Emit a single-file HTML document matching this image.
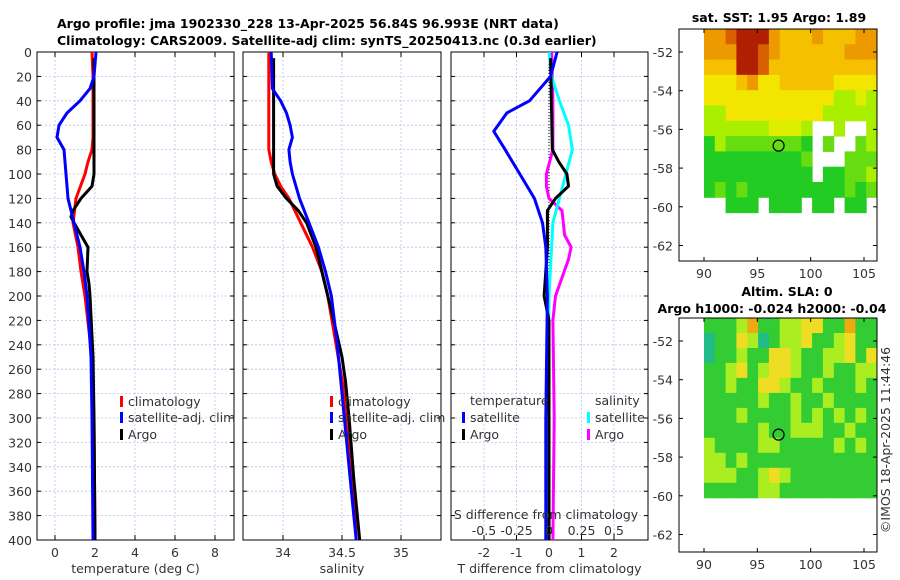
<!DOCTYPE html>
<html><head><meta charset="utf-8"><style>
body{margin:0;background:#fff;}
svg{display:block;font-family:"DejaVu Sans","Liberation Sans",sans-serif;}
.t{font-size:12.5px;fill:#333;}
.b{font-size:12.5px;font-weight:bold;fill:#000;}
</style></head><body>
<svg id="c" width="900" height="580" viewBox="0 0 900 580"></svg>
<script>
// ---------- data ----------
const depthTicks=[0,20,40,60,80,100,120,140,160,180,200,220,240,260,280,300,320,340,360,380,400];
const tempTicks=[0,2,4,6,8];
const salTicks=[34,34.5,35];
const tdiffTicks=[-2,-1,0,1,2];
const sdiffTicks=[-0.5,-0.25,0,0.25,0.5];
const sdiffTickLabels=["-0.5","-0.25","0","0.25","0.5"];
// temperature profiles
const tClimDepth=[0,20,70,80,90,100,120,140,160,180,200,250,300,400];
const tClimVal=[1.85,1.9,1.9,1.85,1.65,1.5,1.05,0.9,1.15,1.3,1.5,1.85,1.95,2.0];
const tSatDepth=[0,20,30,40,50,60,70,80,100,120,140,160,180,200,250,300,400];
const tSatVal=[2.05,1.95,1.75,1.25,0.6,0.2,0.1,0.45,0.55,0.65,0.95,1.25,1.45,1.6,1.8,1.85,1.9];
const tArgoDepth=[5,30,100,110,120,130,135,140,150,160,180,190,200,250,300,400];
const tArgoVal=[1.95,1.95,1.95,1.85,1.3,0.9,0.8,0.95,1.3,1.65,1.6,1.7,1.75,1.9,1.95,2.0];
// salinity profiles
const sSatDepth=[0,30,40,50,60,70,80,90,100,120,140,160,180,200,240,280,320,360,400];
const sSatVal=[33.9,33.91,33.98,34.03,34.06,34.08,34.05,34.06,34.08,34.14,34.22,34.3,34.36,34.41,34.46,34.5,34.54,34.58,34.62];
const sClimDepth=[0,80,90,100,110,120,140,160,180,200,240,280,320,360,400];
const sClimVal=[33.88,33.88,33.9,33.93,33.98,34.05,34.15,34.25,34.33,34.38,34.45,34.52,34.56,34.6,34.62];
const sArgoDepth=[5,100,110,120,130,140,160,180,200,220,250,270,300,350,400];
const sArgoVal=[33.92,33.92,33.95,34.03,34.13,34.2,34.28,34.33,34.38,34.43,34.5,34.53,34.56,34.6,34.65];
// differences
const dTSatDepth=[0,20,40,50,65,80,100,120,140,160,200,300,400];
const dTSatVal=[0.25,0.05,-0.6,-1.3,-1.7,-1.35,-0.9,-0.45,-0.2,-0.1,-0.05,-0.1,-0.1];
const dTArgoDepth=[5,80,90,100,110,120,130,160,180,200,220,300,400];
const dTArgoVal=[0.05,0.1,0.3,0.55,0.6,0.2,-0.05,-0.05,-0.1,-0.15,0,0,0];
const dSSatDepth=[0,20,40,60,80,100,120,140,160,200,300,400];
const dSSatVal=[0,0.02,0.08,0.15,0.18,0.13,0.08,0.03,0.02,0,-0.01,-0.01];
const dSArgoDepth=[0,40,80,100,110,120,130,150,160,170,200,220,300,400];
const dSArgoVal=[0.02,0.03,0.03,-0.02,-0.02,0,0.1,0.12,0.17,0.15,0.05,0.03,0.04,0.03];
// maps
const lonTicks=[90,95,100,105];
const latTicks=[-52,-54,-56,-58,-60,-62];
const sstRows=[
"7789997666766677","7779987666666777","6669986666666666","5556755666665555",
"5555555555553343","3355555555533333","3333334443..3..3","1322222221.2..23",
"1111111112...222","1111111111.11223","1212111111111212","..111.111.11.11."];
const slaRows=[
"4445744556644744","3446534556445644","3445446654455646","4456456654454455",
"4454466544544454","4444454454454444","4445444454545454","4444454455544544",
"5444455444445454","5545444444444444","5554456544444444","4444455444444444"];
const argoLon=96.993, argoLat=-56.84;

// ---------- helpers ----------
const NS="http://www.w3.org/2000/svg", svg=document.getElementById('c');
function el(tag,a,parent){const e=document.createElementNS(NS,tag);for(const k in a)e.setAttribute(k,a[k]);(parent||svg).appendChild(e);return e;}
function txt(x,y,s,cls,anchor,parent){const e=el('text',{x:x,y:y,class:cls||'t','text-anchor':anchor||'middle'},parent);e.textContent=s;return e;}
const Y0=52,Y1=540;
const yD=d=>Y0+(Y1-Y0)*d/400;
function lin(d0,d1,r0,r1){return v=>r0+(v-d0)*(r1-r0)/(d1-d0);}

function panel(name,x0,x1,xs,xt,xl,xlab){
  const g=el('g',{},svg);
  for(const d of depthTicks) el('line',{x1:x0,x2:x1,y1:yD(d),y2:yD(d),stroke:'#b8c4ec','stroke-dasharray':'2,2','stroke-width':0.8},g);
  xt.forEach((v,i)=>{el('line',{x1:xs(v),x2:xs(v),y1:Y0,y2:Y1,stroke:'#b8c4ec','stroke-dasharray':'2,2','stroke-width':0.8},g);
    el('line',{x1:xs(v),x2:xs(v),y1:Y1,y2:Y1-5,stroke:'#000'},g);el('line',{x1:xs(v),x2:xs(v),y1:Y0,y2:Y0+5,stroke:'#000'},g);
    txt(xs(v),557,xl[i],'t','middle',g);});
  for(const d of depthTicks){el('line',{x1:x0,x2:x0+4,y1:yD(d),y2:yD(d),stroke:'#000'},g);el('line',{x1:x1,x2:x1-4,y1:yD(d),y2:yD(d),stroke:'#000'},g);}
  el('rect',{x:x0,y:Y0,width:x1-x0,height:Y1-Y0,fill:'none',stroke:'#000','stroke-width':1},g);
  const l=txt((x0+x1)/2,573,xlab,'t','middle',g);
  return g;
}
function line(g,depths,vals,xs,color,w,name){
  const p=el('polyline',{points:depths.map((d,i)=>xs(vals[i]).toFixed(1)+','+yD(d).toFixed(1)).join(' '),fill:'none',stroke:color,'stroke-width':w||3,'stroke-linejoin':'round'},g);
  
}
function legend(g,x,y,color,label){
  el('rect',{x:x,y:y-9,width:3,height:11,fill:color},g);
  const t=txt(x+8,y+1,label,'t','start',g);
  
}

// titles
txt(57,28,'Argo profile: jma 1902330_228 13-Apr-2025 56.84S 96.993E (NRT data)','b','start');
txt(57,45,'Climatology: CARS2009. Satellite-adj clim: synTS_20250413.nc (0.3d earlier)','b','start');
for(const d of depthTicks){txt(32,yD(d)+5,String(d),'t','end');}

// panel 1
const xT=lin(0,2,55,95);
const g1=panel('temperature-panel',37,234,xT,tempTicks,tempTicks.map(String),'temperature (deg C)');
line(g1,tClimDepth,tClimVal,xT,'#f00',3,'climatology-temp-line');
line(g1,tArgoDepth,tArgoVal,xT,'#000',3,'argo-temp-line');
line(g1,tSatDepth,tSatVal,xT,'#00f',3,'satellite-temp-line');
legend(g1,120,405,'#f00','climatology');legend(g1,120,421,'#00f','satellite-adj. clim');legend(g1,120,438,'#000','Argo');

// panel 2
const xS=lin(34,35,283,401);
const g2=panel('salinity-panel',243,441,xS,salTicks,['34','34.5','35'],'salinity');
line(g2,sClimDepth,sClimVal,xS,'#f00',3,'climatology-sal-line');
line(g2,sArgoDepth,sArgoVal,xS,'#000',3,'argo-sal-line');
line(g2,sSatDepth,sSatVal,xS,'#00f',3,'satellite-sal-line');
legend(g2,330,405,'#f00','climatology');legend(g2,330,421,'#00f','satellite-adj. clim');legend(g2,330,438,'#000','Argo');

// panel 3
const xTd=lin(0,1,549,581.5), xSd=lin(0,0.25,549,581.5);
const g3=panel('difference-panel',451,648,xTd,tdiffTicks,tdiffTicks.map(String),'T difference from climatology');
el('line',{x1:xTd(0),x2:xTd(0),y1:Y0,y2:Y1,stroke:'#000','stroke-dasharray':'1,2'},g3);
line(g3,dSArgoDepth,dSArgoVal,xSd,'#f0f',3,'argo-sal-diff-line');
line(g3,dSSatDepth,dSSatVal,xSd,'#0ff',3,'satellite-sal-diff-line');
line(g3,dTArgoDepth,dTArgoVal,xTd,'#000',3,'argo-temp-diff-line');
line(g3,dTSatDepth,dTSatVal,xTd,'#00f',3,'satellite-temp-diff-line');
sdiffTicks.forEach((v,i)=>txt(xSd(v),535,sdiffTickLabels[i],'t','middle',g3));
txt(546,519,'S difference from climatology','t','middle',g3);
txt(470,405,'temperature','t','start',g3);txt(595,405,'salinity','t','start',g3);
legend(g3,462,421,'#00f','satellite');legend(g3,462,438,'#000','Argo');
legend(g3,587,421,'#0ff','satellite');legend(g3,587,438,'#f0f','Argo');

// maps
const sstCol={'1':'#22cc22','2':'#66dd11','3':'#aaee00','4':'#ddee00','5':'#f2e600','6':'#f5c000','7':'#ec9a00','8':'#d86000','9':'#b02000'};
const slaCol={'3':'#22bb88','4':'#33cc33','5':'#aaee22','6':'#eedd22','7':'#eeaa11'};
function map(name,by0,by1,rows,cols,lat52y,title1,title2,dataBottomLat){
  const g=el('g',{},svg);
  const lx=lin(90,105,704,864), ly=lin(-52,-62,lat52y,lat52y+193.5);
  const bx1=877;
  const nr=rows.length,nc=rows[0].length;
  const cw=(bx1-lx(90))/nc, ch=(ly(dataBottomLat)-by0)/nr;
  rows.forEach((r,i)=>{for(let j=0;j<nc;j++){const c=cols[r[j]];if(!c)continue;
    el('rect',{x:(lx(90)+j*cw).toFixed(1),y:(by0+i*ch).toFixed(1),width:(cw+0.5).toFixed(1),height:(ch+0.5).toFixed(1),fill:c},g);}});
  const m=el('circle',{cx:lx(argoLon),cy:ly(argoLat),r:5.5,fill:'none',stroke:'#000','stroke-width':1.2},g);
  
  el('rect',{x:679,y:by0,width:bx1-679,height:by1-by0,fill:'none',stroke:'#000'},g);
  lonTicks.forEach(v=>{el('line',{x1:lx(v),x2:lx(v),y1:by1,y2:by1-4,stroke:'#000'},g);el('line',{x1:lx(v),x2:lx(v),y1:by0,y2:by0+4,stroke:'#000'},g);txt(lx(v),by1+17,String(v),'t','middle',g);});
  latTicks.forEach(v=>{el('line',{x1:679,x2:683,y1:ly(v),y2:ly(v),stroke:'#000'},g);el('line',{x1:877,x2:873,y1:ly(v),y2:ly(v),stroke:'#000'},g);txt(673,ly(v)+5,String(v),'t','end',g);});
  if(title2){txt(787,by0-22,title1,'b','middle',g);txt(772,by0-5,title2,'b','middle',g);}
  else txt(779,by0-7,title1,'b','middle',g);
}
map('sst-map',29,261,sstRows,sstCol,52,'sat. SST: 1.95 Argo: 1.89',null,-60.3);
map('sla-map',318,552,slaRows,slaCol,341,'Altim. SLA: 0','Argo h1000: -0.024 h2000: -0.04',-60.1);
const cr=txt(0,0,'©IMOS 18-Apr-2025 11:44:46','t','middle');
cr.setAttribute('transform','translate(890,440) rotate(-90)');


</script>
</body></html>
